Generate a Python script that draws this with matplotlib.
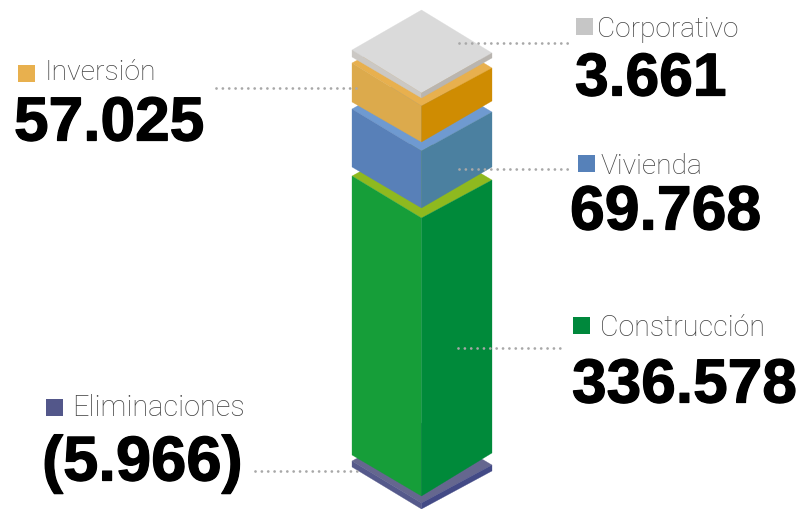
import matplotlib
matplotlib.use('Agg')
import matplotlib.pyplot as plt
import matplotlib.patheffects as pe
from matplotlib.patches import Polygon, Rectangle

# bottom to top
names = ['Eliminaciones', 'Construcción', 'Vivienda', 'Inversión', 'Corporativo']
labels = ['(5.966)', '336.578', '69.768', '57.025', '3.661']
top_colors = ['#65678f', '#8fb91f', '#6f9ad0', '#e8b04e', '#dadada']
left_colors = ['#55598b', '#169e39', '#5880b8', '#dcaa4c', '#cbc8c4']
right_colors = ['#434a86', '#008a3a', '#4b80a0', '#cf8c02', '#b9b5b0']
key_colors = ['#53578a', '#00883c', '#5681b9', '#e8b04e', '#c6c6c6']

# block edges, in pixels
top_left = [461, 176, 109, 63, 50]
top_front = [503, 218, 151, 106, 93]
top_right = [465, 180, 112, 68, 53]
bottom_left = [467, 455, 167, 102, 57]
bottom_front = [509, 496, 208, 142, 98]
bottom_right = [471, 453, 167, 101, 58]

# label layout
key_x = [46, 573, 578, 18, 576]
key_y = [399, 317, 155, 65, 18]
name_x = [72, 600, 601, 45, 597]
name_y = [408, 328, 166, 72, 29]
name_size = [20.8, 20.6, 20.3, 20.4, 20.2]
value_x = [42, 572, 570, 14, 575]
value_y = [464, 387, 213, 125, 80]
value_size = [45.6, 44.8, 45, 44.8, 43.6]
lead_x0 = [255, 458, 459, 216, 459]
lead_x1 = [362, 566, 568, 362, 568]
lead_y = [471, 348, 169, 88, 43]

X_LEFT, X_MID, X_RIGHT = 352, 421.5, 492

fig = plt.figure(figsize=(8.02, 5.09), dpi=100)
ax = fig.add_axes([0, 0, 1, 1])
ax.set_xlim(0, 802)
ax.set_ylim(509, 0)
ax.axis('off')

for i in range(len(names)):
    l, f, r = top_left[i], top_front[i], top_right[i]
    bl, bf, br = bottom_left[i], bottom_front[i], bottom_right[i]
    back = l + r - f
    ax.add_patch(Polygon([(X_LEFT, l), (X_MID, back), (X_RIGHT, r), (X_MID, f)], color=top_colors[i], lw=0.2, zorder=2 + i))
    ax.add_patch(Polygon([(X_LEFT, l), (X_MID, f), (X_MID, bf), (X_LEFT, bl)], color=left_colors[i], lw=0.2, zorder=2 + i))
    ax.add_patch(Polygon([(X_RIGHT, r), (X_MID, f), (X_MID, bf), (X_RIGHT, br)], color=right_colors[i], lw=0.2, zorder=2 + i))

    ax.add_patch(Rectangle((key_x[i], key_y[i]), 16.5, 16.5, color=key_colors[i], lw=0))
    ax.text(name_x[i], name_y[i], names[i], fontsize=name_size[i], family='Roboto', weight='light', color='#444444', va='center', ha='left')
    ax.text(value_x[i], value_y[i], labels[i], fontsize=value_size[i], family='Liberation Sans', weight='bold', color='black', va='center', ha='left',
            path_effects=[pe.withStroke(linewidth=0.9, foreground='black')])
    ax.plot([lead_x0[i], lead_x1[i]], [lead_y[i], lead_y[i]], color='#a8a8a8', lw=2.0, dash_capstyle='round', linestyle=(0, (0.01, 2.28)), zorder=20)

fig.savefig('out.png', dpi=100)
